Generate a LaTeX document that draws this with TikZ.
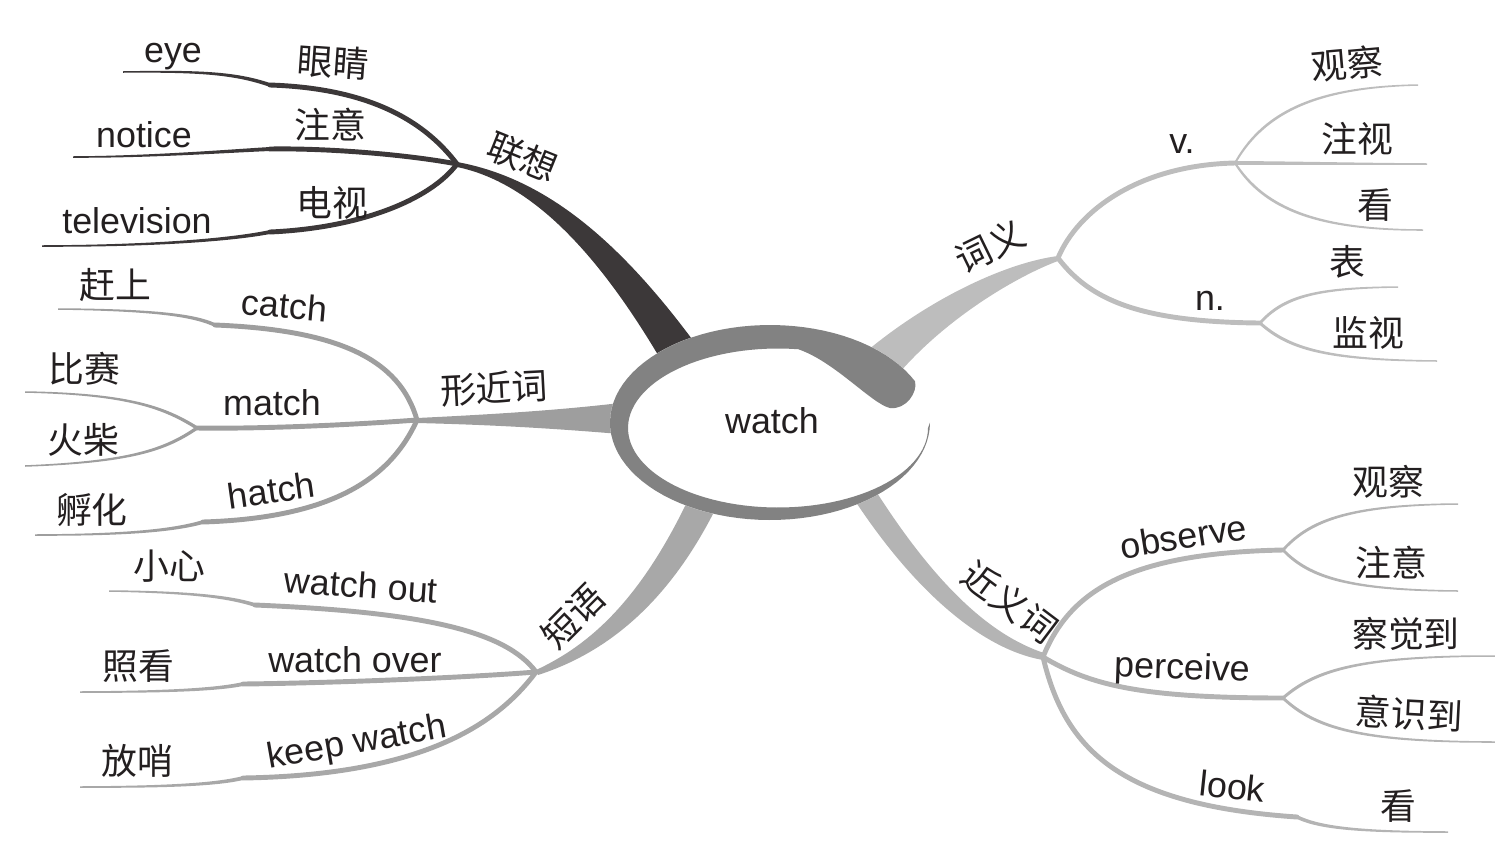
\documentclass[tikz,border=0pt]{standalone}
\usepackage{fontspec}
\setmainfont{Liberation Sans}
\newfontfamily\cjk{Noto Sans CJK SC}
\usetikzlibrary{calc}
\definecolor{ink}{RGB}{35,31,32}
\definecolor{ringgray}{RGB}{130,130,130}
\definecolor{assoc}{RGB}{60,56,57}
\definecolor{lookalike}{RGB}{158,158,158}
\definecolor{phrase}{RGB}{168,168,168}
\definecolor{meaning}{RGB}{189,189,189}
\definecolor{synonym}{RGB}{180,180,180}

% tapered twig: colour, start, control 1, control 2, end
\newcommand{\twig}[5]{%
  \fill[#1] ($#2+(0,-2)$) .. controls ($#3+(0,-1.6)$) and ($#4+(0,-1.1)$) .. ($#5+(0,-0.75)$)
    -- ($#5+(0,0.75)$) .. controls ($#4+(0,1.1)$) and ($#3+(0,1.6)$) .. ($#2+(0,2)$) -- cycle;}

\begin{document}
\begin{tikzpicture}[x=0.02cm, y=-0.02cm,
    twigline/.style={line width=2.8pt, line cap=round},
    en/.style={font=\fontsize{20.4}{24}\selectfont, text=ink, inner sep=0pt,
      text height=14.7pt, text depth=4.3pt},
    zh/.style={font=\cjk\fontsize{20.4}{24}\selectfont, text=ink, inner sep=0pt,
      text height=18pt, text depth=2.4pt},
  ]
  \useasboundingbox (0,0) rectangle (1495,853);

  % hubs, kinks and free ends
  \coordinate (assocH) at (457,164);
  \coordinate (lookH) at (417,420);
  \coordinate (phraseH) at (536,672);
  \coordinate (meanH) at (1058,258);
  \coordinate (synH) at (1043,657);

  \coordinate (eyeK) at (270,85);     \coordinate (eyeE) at (123,72);
  \coordinate (noticeK) at (270,149); \coordinate (noticeE) at (73,157);
  \coordinate (tvK) at (270,232);     \coordinate (tvE) at (42,246);

  \coordinate (catchK) at (215,325);  \coordinate (catchE) at (58,309);
  \coordinate (mFork) at (197,428);
  \coordinate (bisaiE) at (25,392);   \coordinate (huochaiE) at (25,466);
  \coordinate (hatchK) at (203,522);  \coordinate (hatchE) at (35,535);

  \coordinate (woK) at (255,605);     \coordinate (woE) at (109,591);
  \coordinate (wvK) at (243,684);     \coordinate (wvE) at (80,692);
  \coordinate (kwK) at (243,778);     \coordinate (kwE) at (80,787);

  \coordinate (vH) at (1235,163);     \coordinate (nH) at (1260,323);
  \coordinate (gcE) at (1418,85);     \coordinate (zsE) at (1427,164);
  \coordinate (kanE) at (1423,230);   \coordinate (biaoE) at (1398,287);
  \coordinate (jsE) at (1437,361);

  \coordinate (obH) at (1283,550);    \coordinate (peH) at (1283,698);
  \coordinate (lkK) at (1297,817);
  \coordinate (ogcE) at (1458,504);   \coordinate (ozyE) at (1458,591);
  \coordinate (cjdE) at (1495,656);   \coordinate (ysdE) at (1495,742);
  \coordinate (lkE) at (1448,832);

  % main branches
  \fill[assoc] ($(assocH)+(0,-2)$) .. controls (545,178) and (620,240) .. (700,350)
    -- (668,372) .. controls (598,250) and (530,182) .. ($(assocH)+(0,3)$) -- cycle;
  \fill[lookalike] ($(lookH)+(0,-2)$) .. controls (500,414) and (560,410) .. (620,403)
    -- (620,434) .. controls (560,429) and (500,425) .. ($(lookH)+(0,3)$) -- cycle;
  \fill[phrase] ($(phraseH)+(0,-2)$) .. controls (590,645) and (640,600) .. (688,500)
    -- (716,508) .. controls (665,610) and (600,655) .. ($(phraseH)+(2,3)$) -- cycle;
  \fill[meaning] ($(meanH)+(0,-2)$) .. controls (1010,262) and (935,295) .. (868,350)
    -- (900,372) .. controls (950,315) and (1020,275) .. ($(meanH)+(0,3)$) -- cycle;
  \fill[synonym] ($(synH)+(1,-4)$) .. controls (990,635) and (935,585) .. (872,485)
    -- (848,490) .. controls (915,595) and (985,650) .. ($(synH)+(0,3)$) -- cycle;

  % associations
  \draw[assoc, twigline] (assocH) .. controls (420,115) and (360,88) .. (eyeK);
  \draw[assoc, twigline] (assocH) .. controls (410,155) and (330,148) .. (noticeK);
  \draw[assoc, twigline] (assocH) .. controls (430,200) and (360,228) .. (tvK);
  \twig{assoc}{(eyeK)}{(235,73)}{(200,71)}{(eyeE)}
  \twig{assoc}{(noticeK)}{(230,151)}{(150,157)}{(noticeE)}
  \twig{assoc}{(tvK)}{(230,240)}{(150,246)}{(tvE)}

  % look-alike words
  \draw[lookalike, twigline] (lookH) .. controls (400,360) and (340,330) .. (catchK);
  \draw[lookalike, twigline] (lookH) .. controls (350,425) and (260,429) .. (mFork);
  \draw[lookalike, twigline] (lookH) .. controls (390,480) and (330,518) .. (hatchK);
  \twig{lookalike}{(catchK)}{(195,316)}{(160,310)}{(catchE)}
  \twig{lookalike}{(mFork)}{(165,408)}{(130,394)}{(bisaiE)}
  \twig{lookalike}{(mFork)}{(165,450)}{(130,462)}{(huochaiE)}
  \twig{lookalike}{(hatchK)}{(175,530)}{(130,535)}{(hatchE)}

  % phrases
  \draw[phrase, twigline] (phraseH) .. controls (505,630) and (420,612) .. (woK);
  \draw[phrase, twigline] (phraseH) .. controls (460,678) and (330,683) .. (wvK);
  \draw[phrase, twigline] (phraseH) .. controls (500,720) and (430,775) .. (kwK);
  \twig{phrase}{(woK)}{(230,597)}{(190,592)}{(woE)}
  \twig{phrase}{(wvK)}{(215,690)}{(160,692)}{(wvE)}
  \twig{phrase}{(kwK)}{(215,785)}{(160,787)}{(kwE)}

  % meanings
  \draw[meaning, twigline] (meanH) .. controls (1078,210) and (1140,165) .. (vH);
  \draw[meaning, twigline] (meanH) .. controls (1090,300) and (1140,322) .. (nH);
  \twig{meaning}{(vH)}{(1265,110)}{(1320,87)}{(gcE)}
  \twig{meaning}{(vH)}{(1300,163)}{(1360,164)}{(zsE)}
  \twig{meaning}{(vH)}{(1265,210)}{(1320,230)}{(kanE)}
  \twig{meaning}{(nH)}{(1285,295)}{(1320,288)}{(biaoE)}
  \twig{meaning}{(nH)}{(1290,350)}{(1330,360)}{(jsE)}

  % synonyms
  \draw[synonym, twigline] (synH) .. controls (1070,590) and (1130,553) .. (obH);
  \draw[synonym, twigline] (synH) .. controls (1090,685) and (1140,698) .. (peH);
  \draw[synonym, twigline] (synH) .. controls (1065,750) and (1120,805) .. (lkK);
  \twig{synonym}{(obH)}{(1310,520)}{(1350,505)}{(ogcE)}
  \twig{synonym}{(obH)}{(1310,578)}{(1350,590)}{(ozyE)}
  \twig{synonym}{(peH)}{(1315,670)}{(1360,656)}{(cjdE)}
  \twig{synonym}{(peH)}{(1315,728)}{(1360,742)}{(ysdE)}
  \twig{synonym}{(lkK)}{(1320,828)}{(1360,832)}{(lkE)}

  % centre ring
  \fill[white] (770,422.5) ellipse [x radius=160, y radius=97.5];
  \fill[ringgray] plot[domain=0:335, samples=90, variable=\t]
      ({770+160*cos(\t)},{422.5+97.5*sin(\t)})
    .. controls (918,392) and (906,410) .. (890,408)
    .. controls (872,404) and (835,362) .. (799,349.5)
    -- plot[domain=278:0, samples=90, variable=\t]
      ({778+150*cos(\t)},{428+79.5*sin(\t)}) -- cycle;
  \node[en] (watch) at (772,424) {watch};

  % labels
  \node[zh, rotate=-22] (lianxiang) at (523,157) {联想};
  \node[zh, rotate=-4] (yanjing) at (333,62) {眼睛};
  \node[zh] (zhuyiA) at (330,125) {注意};
  \node[zh] (dianshi) at (332,203) {电视};
  \node[en] (eye) at (173,53) {eye};
  \node[en] (notice) at (144,138) {notice};
  \node[en] (television) at (137,224) {television};

  \node[zh, rotate=3] (xingjinci) at (494,388) {形近词};
  \node[en, rotate=-5] (catch) at (284,309) {catch};
  \node[en] (match) at (272,406) {match};
  \node[en, rotate=8] (hatch) at (272,494) {hatch};
  \node[zh] (ganshang) at (115,285) {赶上};
  \node[zh] (bisai) at (84,369) {比赛};
  \node[zh] (huochai) at (83,440) {火柴};
  \node[zh] (fuhua) at (92,510) {孵化};

  \node[zh, rotate=45] (duanyu) at (573,616) {短语};
  \node[en, rotate=-4] (watchout) at (361,589) {watch out};
  \node[en] (watchover) at (355,663) {watch over};
  \node[en, rotate=10] (keepwatch) at (357,744) {keep watch};
  \node[zh] (xiaoxin) at (169,566) {小心};
  \node[zh] (zhaokan) at (138,666) {照看};
  \node[zh] (fangshao) at (137,761) {放哨};

  \node[zh, rotate=26] (ciyi) at (990,246) {词义};
  \node[en] (verb) at (1182,144) {v.};
  \node[en] (noun) at (1210,301) {n.};
  \node[zh, rotate=5] (guanchaA) at (1347,64) {观察};
  \node[zh] (zhushi) at (1357,139) {注视};
  \node[zh] (kanA) at (1375,205) {看};
  \node[zh] (biao) at (1347,262) {表};
  \node[zh] (jianshi) at (1368,333) {监视};

  \node[zh, rotate=-37] (jinyici) at (1010,602) {近义词};
  \node[en, rotate=9] (observe) at (1184,540) {observe};
  \node[en, rotate=-2] (perceive) at (1182,670) {perceive};
  \node[en, rotate=-6] (look) at (1232,790) {look};
  \node[zh] (guanchaB) at (1388,482) {观察};
  \node[zh] (zhuyiB) at (1391,563) {注意};
  \node[zh] (chajuedao) at (1406,634) {察觉到};
  \node[zh, rotate=-3] (yishidao) at (1409,714) {意识到};
  \node[zh] (kanB) at (1398,806) {看};
\end{tikzpicture}
\end{document}
